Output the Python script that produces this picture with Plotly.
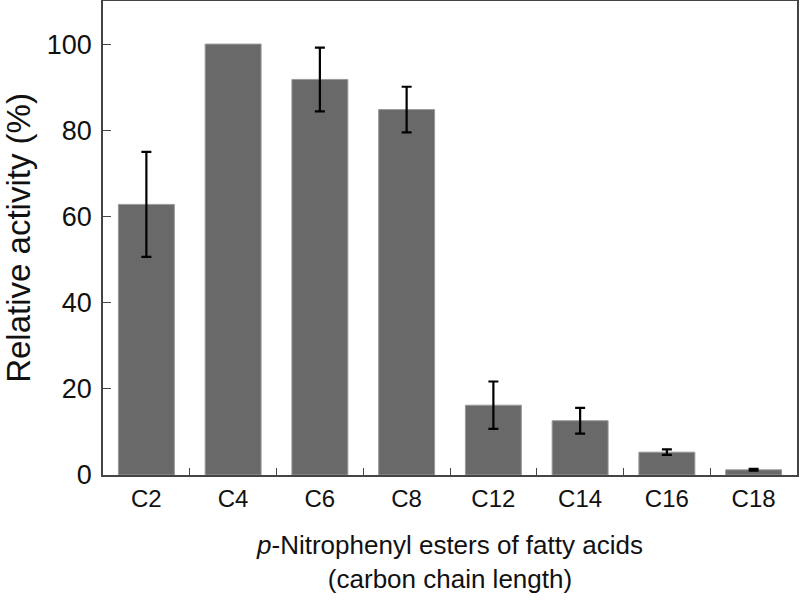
import plotly.graph_objects as go

categories = ["C2", "C4", "C6", "C8", "C12", "C14", "C16", "C18"]
activity = [62.8, 100.0, 91.8, 84.8, 16.2, 12.6, 5.3, 1.2]
error = [12.2, None, 7.4, 5.3, 5.5, 3.0, 0.65, 0.2]  # None: no error bar shown
y_ticks = [0, 20, 40, 60, 80, 100]

FONT = "Liberation Sans, Arial, sans-serif"

# points that carry an error bar
eb_x = [c for c, e in zip(categories, error) if e is not None]
eb_y = [v for v, e in zip(activity, error) if e is not None]
eb_e = [e for e in error if e is not None]

fig = go.Figure()
fig.add_trace(go.Bar(
    x=categories,
    y=activity,
    marker=dict(color="#696969", line=dict(color="#9a9a9a", width=1)),
    hoverinfo="x+y",
))
fig.add_trace(go.Scatter(
    x=eb_x, y=eb_y, mode="markers",
    marker=dict(size=1, opacity=0),
    error_y=dict(type="data", array=eb_e, visible=True,
                 color="#000000", thickness=2.2, width=5),
    hoverinfo="skip",
))

fig.update_layout(
    width=800, height=607,
    margin=dict(l=103, r=3, t=1, b=132),
    paper_bgcolor="white", plot_bgcolor="white",
    bargap=0.355,
    showlegend=False,
    font=dict(family=FONT, color="#111111"),
)

fig.update_xaxes(
    type="category", automargin=False,
    categoryorder="array", categoryarray=categories,
    showline=True, linecolor="#444444", linewidth=1.6, mirror=True,
    ticks="inside", tickson="boundaries", ticklen=7, tickcolor="#444444", tickwidth=1,
    tickfont=dict(size=24, family=FONT, color="#111111"),
    ticklabelstandoff=1,
    showgrid=False,
    title=dict(text="<i>p</i>-Nitrophenyl esters of fatty acids<br>(carbon chain length)",
               font=dict(size=26, family=FONT, color="#111111"), standoff=25),
)

fig.update_yaxes(
    range=[0, 110], automargin=False,
    tickvals=y_ticks,
    showline=True, linecolor="#444444", linewidth=1.6, mirror=True,
    ticks="inside", ticklen=8, tickcolor="#444444", tickwidth=1,
    tickfont=dict(size=27, family=FONT, color="#111111"),
    ticklabelstandoff=4,
    showgrid=False, zeroline=False,
    title=dict(text="Relative activity (%)",
               font=dict(size=33, family=FONT, color="#111111"), standoff=19),
)

fig.write_html(
    "out.html",
    config={"displayModeBar": False},
    post_script="document.body.style.margin='0';document.body.style.overflow='hidden';",
)
